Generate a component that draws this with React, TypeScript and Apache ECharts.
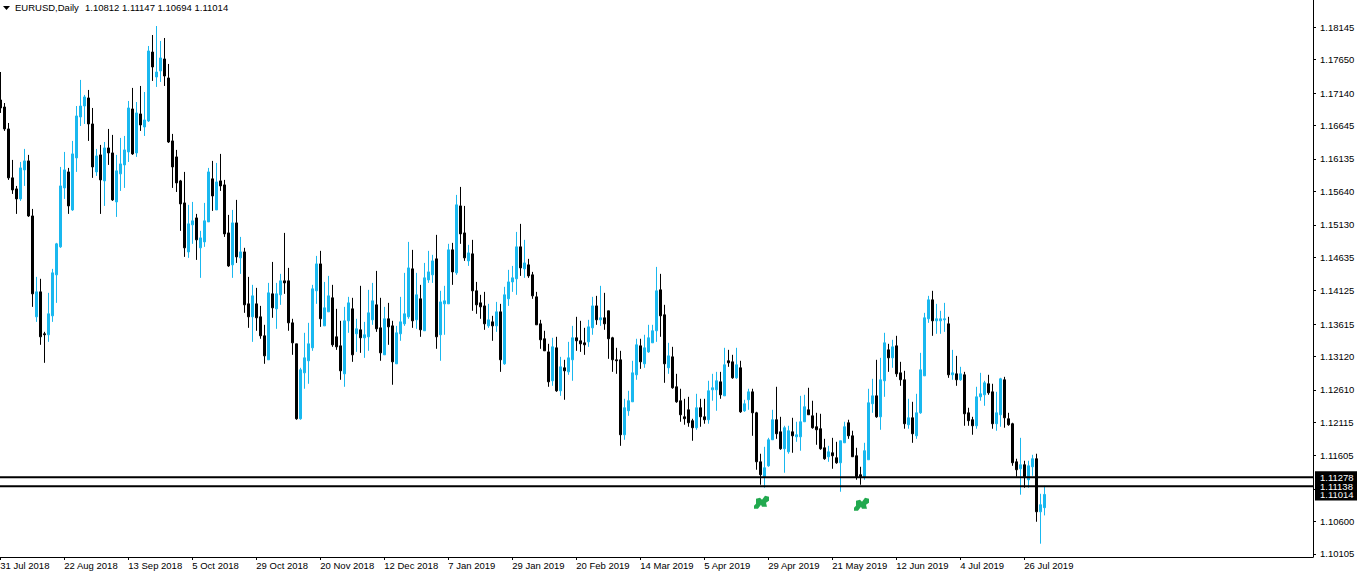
import React, { useEffect, useRef } from "react";
import * as echarts from "echarts";

// All prices below are expressed in points above 1.00000 (17035 = 1.17035).
const opensPts = [
17035,16928,16593,15846,15678,15525,15968,16105,15265,13725,
14106,13466,13451,13740,14366,14793,15693,15937,15357,16151,
16776,16943,17066,16669,15937,16197,15800,16303,16227,15479,
15907,16044,16242,16898,16227,16822,16623,16715,17767,17386,
17478,17661,17371,16410,16166,15800,15464,14716,15129,15235,
14778,14869,15174,15831,15357,15800,15739,15006,14518,15159,
14625,14716,13923,13725,13923,13725,13435,13069,14076,13847,
14061,14274,14274,13633,13313,12169,12870,13054,13252,14122,
14533,13587,13801,14015,13420,13282,12855,13664,13847,13466,
13527,13405,13420,13679,13908,13557,13145,13695,13587,13008,
13466,13618,13725,14457,13679,14000,13512,14289,14366,14610,
13451,13923,13923,14747,14396,15418,15006,14579,14686,14122,
13938,13892,13587,13648,13587,13801,13008,14000,14258,14305,
14793,14457,14518,14366,14030,13618,13390,13190,12749,13252,
12596,12947,12885,13069,13405,13359,13328,13343,13557,13892,
13679,13710,13817,13405,13069,13069,11925,12291,12428,12840,
13282,13008,13190,13328,13512,14137,13756,12947,13114,12657,
12444,12199,12306,12139,12032,12337,12199,12154,12611,12611,
12733,12519,13054,13038,12794,12947,12291,12459,12580,12260,
11512,11284,11451,11848,12154,11970,11711,11665,11970,11894,
11894,12123,12306,12214,12047,12017,11726,11589,11650,11574,
11497,11802,12108,11909,11604,11315,11284,11543,12398,12519,
12199,12749,13221,13099,13282,12870,12764,12078,12184,11909,
12260,12824,13695,13984,13664,13664,13679,13618,12840,12855,
12764,12840,12260,12154,12062,12504,12535,12703,12580,12093,
12230,12764,12169,12093,11512,11406,11467,11238,11436,11559,
10749,10812];
const closesPts = [
16913,16593,15846,15662,15525,15998,16105,15265,14076,14106,
13420,13451,13771,14396,14839,15723,15968,15418,16212,16791,
16943,17081,16669,16013,16181,15815,16303,16227,15510,15953,
16059,16273,16913,16212,16837,16654,16730,17783,17539,17462,
17676,17401,16394,16013,15769,15449,14778,15144,15190,14900,
14930,15190,15937,15570,15784,15723,14991,14502,15159,14640,
14716,13908,13725,14045,13710,13435,13129,14091,13862,14076,
14274,14243,13633,13328,12169,12916,13099,13313,14152,14533,
13695,13862,14045,13298,13267,12901,13664,13938,13145,13542,
13405,13451,13786,13969,13542,13175,13695,13572,13038,13481,
13648,13771,14472,13664,14061,13527,14320,14411,14579,13420,
13953,13969,14747,14411,15434,14991,14625,14701,14122,13908,
13877,13618,13679,13587,13801,13069,14061,14258,14320,14793,
14472,14548,14350,14045,13603,13374,13206,12733,13267,12596,
12962,12901,13099,13405,13359,13313,13298,13572,13892,13679,
13710,13618,13390,13069,13054,11925,12337,12444,12870,13298,
13038,13252,13405,13512,14122,13740,13008,13129,12642,12428,
12230,12169,12108,12032,12337,12199,12154,12596,12642,12749,
12535,12993,13023,12794,12993,12275,12398,12580,12260,11512,
11315,11421,11848,12154,11940,11711,12032,11986,11909,11925,
12123,12352,12230,12032,12001,11711,11559,11665,11604,11497,
11833,12047,11909,11589,11284,11284,11681,12413,12519,12199,
12764,13328,13099,13267,12855,12764,12093,12184,11940,12260,
12916,13710,13984,13664,13695,13695,13695,12840,12870,12764,
12855,12245,12139,12062,12504,12550,12718,12565,12093,12260,
12779,12184,12078,11497,11391,11467,11284,11451,11559,10749,
10857,11014];
const lowsPts = [
16837,16563,15815,15601,15296,15495,15723,15250,13877,13648,
13298,13023,13343,13648,13938,14778,15525,15296,15342,15937,
16638,16669,16410,15846,15876,15296,15418,16044,15495,15250,
15647,15693,16089,16197,16166,16563,16486,16699,17326,17234,
17310,17249,16379,15693,15631,15037,14640,14625,14839,14594,
14320,14793,15174,15342,15357,15647,14945,14487,14320,14548,
14381,13786,13557,13343,13512,13390,13008,13069,13710,13542,
13908,14076,13512,13145,12154,12154,12627,12703,13206,13923,
13572,13587,13801,13267,13221,12764,12657,13481,13038,13190,
13175,13099,13206,13603,13496,13054,13145,13298,12688,13008,
13359,13587,13695,13557,13542,13420,13512,14243,14243,13237,
13054,13451,13923,14213,14366,14839,14579,14502,13817,13771,
13695,13527,13557,13359,13496,12885,12993,13892,14106,14061,
14350,14320,14320,14000,13603,13237,13206,12657,12672,12580,
12519,12459,12840,12749,13206,13190,13145,13267,13451,13603,
13587,13527,13084,12885,12855,11756,11848,12214,12428,12764,
12931,12947,13175,13328,13343,13420,12718,12855,12627,12413,
12123,12078,12047,11833,12001,12047,12093,12093,12444,12291,
12474,12519,12962,12779,12779,12260,12275,12306,11909,11391,
11162,11116,11436,11848,11863,11696,11345,11635,11650,11817,
11681,12123,12230,12017,11772,11696,11543,11512,11406,11482,
11055,11802,11863,11589,11238,11162,11238,11543,12260,12184,
12001,12504,12885,12947,12809,12672,12017,12017,11802,11863,
12245,12824,13633,13435,13466,13466,13496,12794,12764,12672,
12749,12062,12062,11925,12017,12444,12367,12535,12017,11986,
12047,12032,12062,11451,11284,11010,11116,11116,11299,10597,
10262,10694];
const highsPts = [
17462,16989,16684,16120,15723,16089,16288,16197,15372,14335,
14305,13496,14091,14457,14854,16013,16242,15998,16410,16943,
17341,17112,17188,16913,16288,16349,16394,16593,16502,16197,
16456,16486,17020,17219,17004,17249,17157,17859,18027,18164,
17936,17981,17585,16517,16273,15815,15937,15434,15479,15296,
15037,15464,15998,16105,16074,16212,15815,15281,15357,15510,
14945,14778,14335,14213,14167,13892,13603,14243,14563,14243,
14381,15006,14472,13695,13313,12947,13481,13633,14213,14655,
14732,14258,14350,14213,13847,13664,13877,14030,14015,13695,
14198,13648,14137,14243,14426,14015,13877,13938,13664,13587,
14030,14396,14869,14747,14396,14213,14548,14732,14671,14976,
14122,14198,14839,14854,15586,15708,15418,14824,14900,14258,
14061,14106,13923,13740,13953,13923,14183,14442,14502,15021,
15144,14900,14610,14411,14106,13679,13512,13313,13405,13420,
13114,13069,13343,13587,13725,13664,13557,13679,14030,14045,
14198,14091,13817,13420,13252,13206,12474,12596,13054,13390,
13390,13451,13603,13603,14487,14381,13908,13328,13267,12855,
12627,12474,12504,12169,12550,12474,12474,12749,12855,12885,
12885,13252,13221,13145,13252,13054,12459,12627,12627,12275,
11635,11741,11878,12306,12657,12199,12062,12062,12184,12123,
12519,12535,12642,12444,12260,12245,11863,11756,11878,11817,
11833,12123,12154,11986,11726,11436,11802,12627,12779,13069,
13099,13481,13313,13374,13435,13038,12901,12474,12428,12550,
13175,13786,14045,14122,13923,13817,13938,13725,13221,13129,
12962,12885,12337,12199,12657,12870,12749,12840,12703,12580,
12794,12809,12260,12108,11559,11878,11528,11528,11619,11635,
11024,11147];

const dateLabels = [
  "31 Jul 2018","22 Aug 2018","13 Sep 2018","5 Oct 2018","29 Oct 2018","20 Nov 2018",
  "12 Dec 2018","7 Jan 2019","29 Jan 2019","20 Feb 2019","14 Mar 2019","5 Apr 2019",
  "29 Apr 2019","21 May 2019","12 Jun 2019","4 Jul 2019","26 Jul 2019",
];
const priceTicks = [
  1.18145,1.1765,1.1714,1.16645,1.16135,1.1564,1.1513,1.14635,1.14125,
  1.13615,1.1312,1.1261,1.12115,1.11605,1.106,1.10105,
];
const hiddenTick = 1.111;
const levelPrices = [1.11278, 1.11138];
const lastPrice = 1.11014;
const markerBars = [190, 215];
const markerPrices = [1.10895, 1.10864];

const SLOTS = 328;
const LABEL_STEP = 16;
const Y_MIN = 1.10059;
const Y_MAX = 1.18561;
const CYAN = "#19b8ef";
const GREEN = "#22a94f";
const FONT = "Liberation Sans";
const FONT_SIZE = 9.5;
const MARKER =
  "path://M0 10L2 8L2 3L6 2L8 4L11 0L15 1L15 5L12 7L13 11L8 11L7 9L4 13L0 13Z";

const toPrice = (p: number) => 1 + p / 100000;
const fmt = (v: number) => v.toFixed(5);
const lastBar = opensPts.length - 1;

export default function App() {
  const ref = useRef<HTMLDivElement>(null);
  useEffect(() => {
    document.body.style.margin = "0";
    document.body.style.overflow = "hidden";
    const chart = echarts.init(ref.current!, null, { renderer: "svg" });
    const categories = Array.from({ length: SLOTS }, (_, i) =>
      i % LABEL_STEP === 0 && dateLabels[i / LABEL_STEP]
        ? dateLabels[i / LABEL_STEP]
        : String(i)
    );
    const candles = opensPts.map((_, i) => [
      toPrice(opensPts[i]),
      toPrice(closesPts[i]),
      toPrice(lowsPts[i]),
      toPrice(highsPts[i]),
    ]);
    const showLabel = (i: number) =>
      i % LABEL_STEP === 0 && i / LABEL_STEP < dateLabels.length;
    const highlighted = [...levelPrices, lastPrice];
    const labelValues = [...priceTicks, ...highlighted].sort((a, b) => a - b);
    chart.setOption({
      animation: false,
      backgroundColor: "#ffffff",
      title: [
        {
          text: "EURUSD,Daily",
          left: 15,
          top: 2,
          padding: 0,
          textStyle: { fontFamily: FONT, fontSize: FONT_SIZE, fontWeight: "normal", color: "#000" },
        },
        {
          text: [opensPts[lastBar], highsPts[lastBar], lowsPts[lastBar], closesPts[lastBar]]
            .map((p) => fmt(toPrice(p)))
            .join(" "),
          left: 85,
          top: 2,
          padding: 0,
          textStyle: { fontFamily: FONT, fontSize: FONT_SIZE, fontWeight: "normal", color: "#000" },
        },
      ],
      graphic: [
        {
          type: "polygon",
          shape: { points: [[3, 6], [10, 6], [6.5, 10]] },
          style: { fill: "#000" },
        },
      ],
      grid: [
        { left: -1.7, top: 0, width: SLOTS * 4, height: 557, outerBoundsMode: "none" },
        { left: 0, top: 0, width: 1313, height: 557, outerBoundsMode: "none" },
      ],
      xAxis: [
        {
          type: "category",
          gridIndex: 0,
          data: categories,
          boundaryGap: true,
          axisLine: { show: false },
          axisTick: {
            show: true,
            alignWithLabel: true,
            interval: (i: number) => showLabel(i),
            length: 3,
            lineStyle: { color: "#000" },
          },
          axisLabel: {
            interval: (i: number) => showLabel(i),
            align: "left",
            margin: 3,
            fontFamily: FONT,
            fontSize: FONT_SIZE,
            color: "#000",
          },
          splitLine: { show: false },
        },
        {
          type: "value",
          gridIndex: 1,
          min: 0,
          max: 1,
          axisLine: { show: true, onZero: false, lineStyle: { color: "#000", width: 1 } },
          axisTick: { show: false },
          axisLabel: { show: false },
          splitLine: { show: false },
        },
      ],
      yAxis: [
        {
          type: "value",
          gridIndex: 0,
          min: Y_MIN,
          max: Y_MAX,
          show: false,
        },
        {
          type: "value",
          gridIndex: 1,
          position: "right",
          min: Y_MIN,
          max: Y_MAX,
          axisLine: { show: true, onZero: false, lineStyle: { color: "#000", width: 1 } },
          axisTick: {
            show: true,
            length: 3,
            customValues: [...priceTicks, hiddenTick],
            lineStyle: { color: "#000" },
          },
          axisLabel: {
            margin: 2,
            hideOverlap: false,
            customValues: labelValues,
            formatter: (v: number) => {
              const isHi = highlighted.some((h) => Math.abs(h - v) < 1e-7);
              return `{${isHi ? "h" : "n"}|${fmt(v)}}`;
            },
            rich: {
              n: {
                fontFamily: FONT,
                fontSize: FONT_SIZE,
                color: "#000",
                padding: [0, 0, 0, 5],
              },
              h: {
                fontFamily: FONT,
                fontSize: FONT_SIZE,
                color: "#fff",
                backgroundColor: "#000",
                padding: [1, 4, 1, 5],
                width: 33,
              },
            },
          },
          splitLine: { show: false },
        },
      ],
      series: [
        {
          type: "candlestick",
          xAxisIndex: 0,
          yAxisIndex: 0,
          data: candles,
          barWidth: 2,
          itemStyle: {
            color: CYAN,
            color0: "#000",
            borderColor: CYAN,
            borderColor0: "#000",
            borderWidth: 1,
          },
          silent: true,
          z: 2,
        },
        {
          type: "scatter",
          xAxisIndex: 0,
          yAxisIndex: 0,
          data: markerBars.map((b, i) => [b, markerPrices[i]]),
          symbol: MARKER,
          symbolSize: [15, 13],
          symbolOffset: [1.2, 0],
          itemStyle: { color: GREEN, opacity: 1 },
          silent: true,
          z: 3,
        },
        ...levelPrices.map((p) => ({
          type: "line",
          xAxisIndex: 1,
          yAxisIndex: 1,
          data: [
            [0, p],
            [1, p],
          ],
          symbol: "none",
          lineStyle: { color: "#000", width: 2 },
          silent: true,
          z: 4,
        })),
      ],
    });
    return () => chart.dispose();
  }, []);
  return (
    <div
      ref={ref}
      style={{ position: "fixed", left: 0, top: 0, width: 1357, height: 577 }}
    />
  );
}
